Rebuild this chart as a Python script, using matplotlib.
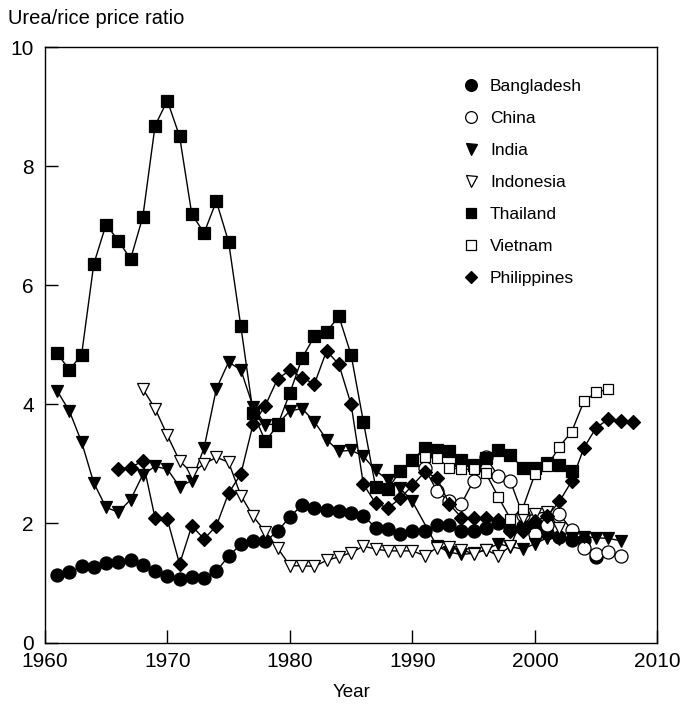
import matplotlib.pyplot as plt
from matplotlib.lines import Line2D

plt.rcParams['font.family'] = ['Liberation Sans', 'DejaVu Sans']

# urea/rice price ratio by country and year
years_bangladesh = list(range(1961, 2006))
bangladesh = [1.13, 1.18, 1.28, 1.27, 1.33, 1.35, 1.39, 1.30, 1.21, 1.12,
              1.07, 1.11, 1.08, 1.20, 1.45, 1.65, 1.71, 1.70, 1.87, 2.11,
              2.31, 2.26, 2.23, 2.21, 2.18, 2.13, 1.93, 1.91, 1.82, 1.88,
              1.87, 1.98, 1.98, 1.87, 1.87, 1.92, 2.01, 1.90, 1.95, 1.95,
              1.84, 1.78, 1.72, 1.72, 1.43]

years_china = list(range(1991, 2008))
china = [2.93, 2.55, 2.37, 2.33, 2.72, 3.11, 2.80, 2.71, 2.15, 1.82,
         1.98, 2.16, 1.89, 1.59, 1.49, 1.52, 1.45]

# no 1991 observation for India
years_india = list(range(1961, 1991)) + list(range(1992, 2008))
india = [4.23, 3.89, 3.37, 2.68, 2.27, 2.19, 2.40, 2.82, 2.96, 2.91,
         2.62, 2.72, 3.27, 4.26, 4.71, 4.58, 3.96, 3.66, 3.67, 3.89,
         3.93, 3.71, 3.41, 3.21, 3.23, 3.13, 2.89, 2.73, 2.59, 2.37,
         1.62, 1.52, 1.48, 1.50, 1.56, 1.66, 1.61, 1.57, 1.66,
         1.76, 1.74, 1.76, 1.78, 1.76, 1.75, 1.71]

years_indonesia = list(range(1968, 2003))
indonesia = [4.26, 3.93, 3.48, 3.05, 2.85, 3.00, 3.11, 3.03, 2.47, 2.12,
             1.86, 1.59, 1.29, 1.29, 1.28, 1.38, 1.44, 1.51, 1.62, 1.57,
             1.54, 1.54, 1.54, 1.46, 1.59, 1.60, 1.56, 1.49, 1.56, 1.46,
             1.62, 2.10, 2.16, 2.20, 1.92]

years_thailand = list(range(1961, 2004))
thailand = [4.86, 4.58, 4.83, 6.36, 7.02, 6.75, 6.44, 7.15, 8.68, 9.10,
            8.50, 7.19, 6.88, 7.41, 6.73, 5.31, 3.86, 3.38, 3.65, 4.19,
            4.78, 5.14, 5.22, 5.48, 4.83, 3.71, 2.61, 2.58, 2.88, 3.06,
            3.27, 3.23, 3.22, 3.06, 2.98, 3.10, 3.24, 3.15, 2.93, 2.93,
            3.02, 2.98, 2.88]

years_vietnam = list(range(1991, 2007))
vietnam = [3.11, 3.10, 2.94, 2.91, 2.91, 2.84, 2.45, 2.08, 2.25, 2.83,
           2.96, 3.29, 3.54, 4.05, 4.20, 4.26]

years_philippines = list(range(1966, 2009))
philippines = [2.92, 2.94, 3.05, 2.09, 2.07, 1.32, 1.96, 1.74, 1.96, 2.51,
               2.83, 3.67, 3.98, 4.43, 4.57, 4.45, 4.34, 4.90, 4.67, 4.00,
               2.66, 2.34, 2.26, 2.42, 2.64, 2.86, 2.77, 2.33, 2.10, 2.10,
               2.10, 2.06, 1.87, 1.88, 2.04, 2.12, 2.37, 2.71, 3.27, 3.61,
               3.75, 3.72, 3.70]

series = [
    ('Bangladesh', years_bangladesh, bangladesh, 'o', 'black', 9.4),
    ('China', years_china, china, 'o', 'white', 9.4),
    ('India', years_india, india, 'v', 'black', 8.8),
    ('Indonesia', years_indonesia, indonesia, 'v', 'white', 8.8),
    ('Thailand', years_thailand, thailand, 's', 'black', 8.0),
    ('Vietnam', years_vietnam, vietnam, 's', 'white', 7.4),
    ('Philippines', years_philippines, philippines, 'D', 'black', 7.2),
]

fig = plt.figure(figsize=(6.8, 7.04), dpi=100)
ax = fig.add_axes([0.0659, 0.0872, 0.9009, 0.846])

handles = []
for name, x, y, marker, fill, ms in series:
    ax.plot(x, y, color='black', lw=1.0, marker=marker, ms=ms,
            mfc=fill, mec='black', mew=0.9)
    handles.append(Line2D([], [], ls='none', marker=marker, ms=ms * 0.9,
                          mfc=fill, mec='black', mew=0.9, label=name))

ax.set_xlim(1960, 2010)
ax.set_ylim(0, 10)
ax.set_xticks(range(1960, 2011, 10))
ax.set_yticks(range(0, 11, 2))
ax.tick_params(direction='in', length=9.5, width=1.0, labelsize=15)
ax.tick_params(axis='x', pad=7)
ax.tick_params(axis='y', pad=8)
for sp in ax.spines.values():
    sp.set_linewidth(1.0)

ax.set_xlabel('Year', fontsize=13.5, labelpad=9)
fig.text(8 / 680, 1 - 19 / 704, 'Urea/rice price ratio', fontsize=14.5,
         ha='left', va='center')

ax.legend(handles=handles, loc='upper left', bbox_to_anchor=(0.67, 0.958),
          frameon=False, fontsize=12.5, handlelength=1.0, handletextpad=0.6,
          labelspacing=0.97, borderaxespad=0)

fig.savefig('out.png', dpi=100)
